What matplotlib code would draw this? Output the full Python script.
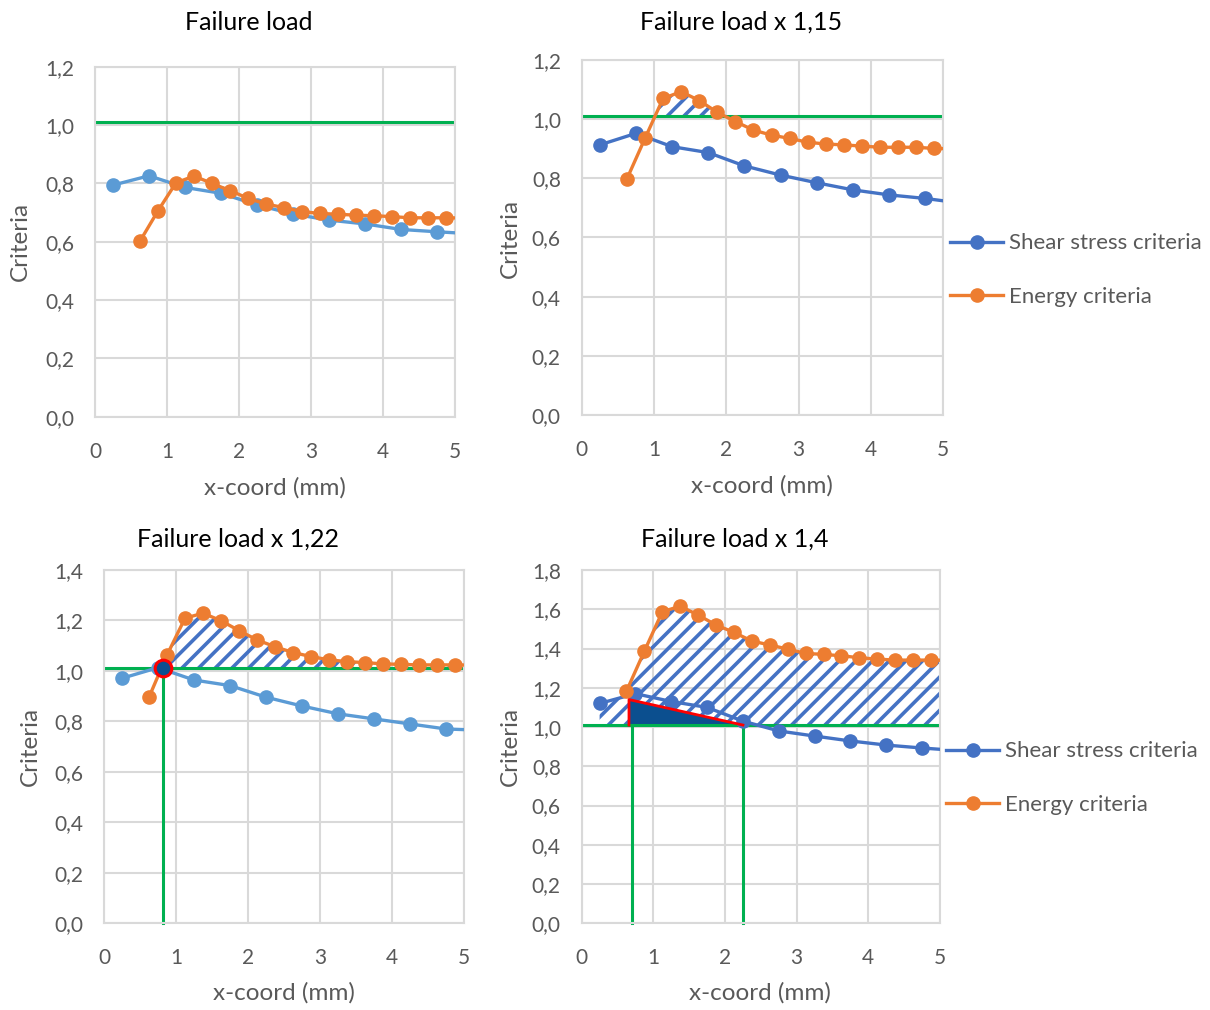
import numpy as np
import matplotlib
matplotlib.use("Agg")
import matplotlib.pyplot as plt
from matplotlib.ticker import FuncFormatter, MultipleLocator
from matplotlib.lines import Line2D

plt.rcParams['font.family'] = ['Lato', 'DejaVu Sans']
plt.rcParams['hatch.linewidth'] = 2.6

# ---------------- data ----------------
x_shear = [0.25, 0.75, 1.25, 1.75, 2.25, 2.75, 3.25, 3.75, 4.25, 4.75, 5.25]
x_energy = [0.625, 0.875, 1.125, 1.375, 1.625, 1.875, 2.125, 2.375, 2.625, 2.875,
            3.125, 3.375, 3.625, 3.875, 4.125, 4.375, 4.625, 4.875, 5.125]

shear_1 = [0.794, 0.826, 0.786, 0.766, 0.726, 0.695, 0.674, 0.661, 0.642, 0.634, 0.627]
energy_1 = [0.602, 0.706, 0.802, 0.825, 0.800, 0.775, 0.749, 0.729, 0.717, 0.703,
            0.697, 0.694, 0.691, 0.689, 0.686, 0.682, 0.682, 0.682, 0.681]

shear_2 = [0.913, 0.952, 0.907, 0.887, 0.842, 0.811, 0.785, 0.761, 0.744, 0.732, 0.716]
energy_2 = [0.798, 0.935, 1.070, 1.093, 1.063, 1.023, 0.992, 0.963, 0.946, 0.935,
            0.922, 0.916, 0.913, 0.909, 0.905, 0.905, 0.905, 0.901, 0.900]

shear_3 = [0.971, 1.013, 0.964, 0.942, 0.896, 0.861, 0.830, 0.810, 0.790, 0.770, 0.765]
energy_3 = [0.896, 1.063, 1.209, 1.229, 1.199, 1.160, 1.123, 1.096, 1.073, 1.057,
            1.044, 1.037, 1.033, 1.028, 1.026, 1.024, 1.024, 1.024, 1.023]

shear_4 = [1.12, 1.17, 1.13, 1.10, 1.03, 0.98, 0.954, 0.929, 0.908, 0.893, 0.88]
energy_4 = [1.183, 1.387, 1.587, 1.616, 1.570, 1.520, 1.482, 1.438, 1.418, 1.397,
            1.375, 1.370, 1.363, 1.353, 1.346, 1.341, 1.341, 1.341, 1.340]

threshold = 1.01
titles = ["Failure load", "Failure load x 1,15", "Failure load x 1,22", "Failure load x 1,4"]
y_max = [1.2, 1.2, 1.4, 1.8]
series_labels = ["Shear stress criteria", "Energy criteria"]

intersect_3 = (0.82, 1.01)
vlines_3 = [0.82]
vlines_4 = [0.70, 2.25]
tri_x = [0.66, 0.66, 2.25]
tri_y = [1.01, 1.14, 1.01]

# ---------------- style ----------------
W, H = 1210, 1010
ORANGE = '#ED7D31'
BLUE_L = '#5B9BD5'
BLUE_D = '#4472C4'
GREEN = '#00B050'
GRID = '#D9D9D9'
TXT = '#595959'
HATCH = '#4472C4'
DARK = '#0B4F8F'

fig = plt.figure(figsize=(W / 100, H / 100), dpi=100)


def rect(l, r, t, b):
    return [l / W, 1 - b / H, (r - l) / W, (b - t) / H]


rects = [rect(95, 455, 66.7, 416.7), rect(581.7, 943.3, 60, 415),
         rect(104, 464, 570, 923.3), rect(581.7, 940, 570, 923.3)]

comma = FuncFormatter(lambda v, p: f"{v:.1f}".replace('.', ','))

axes = []
for i, r in enumerate(rects):
    ax = fig.add_axes(r)
    ax.set_xlim(0, 5)
    ax.set_ylim(0, y_max[i])
    ax.xaxis.set_major_locator(MultipleLocator(1))
    ax.yaxis.set_major_locator(MultipleLocator(0.2))
    ax.yaxis.set_major_formatter(comma)
    ax.grid(True, color=GRID, lw=1.5, zorder=0)
    ax.set_axisbelow(True)
    for s in ax.spines.values():
        s.set_color(GRID)
        s.set_linewidth(1.5)
    ax.tick_params(length=0, colors=TXT, labelsize=15)
    ax.tick_params(axis='y', pad=15)
    ax.tick_params(axis='x', pad=18)
    axes.append(ax)

shear = [shear_1, shear_2, shear_3, shear_4]
energy = [energy_1, energy_2, energy_3, energy_4]
blues = [BLUE_L, BLUE_D, BLUE_L, BLUE_D]

# hatched zones
HP = '//'
axes[1].fill_between(x_energy, threshold, energy_2, where=np.array(energy_2) > threshold,
                     interpolate=True, facecolor='none', edgecolor=HATCH, hatch=HP,
                     linewidth=0, zorder=1)
axes[2].fill_between(x_energy, threshold, energy_3, where=np.array(energy_3) > threshold,
                     interpolate=True, facecolor='none', edgecolor=HATCH, hatch=HP,
                     linewidth=0, zorder=1)
xs = np.linspace(x_shear[0], 5.0, 800)
env = np.maximum(np.interp(xs, x_shear, shear_4),
                 np.interp(xs, x_energy, energy_4, left=0.0))
axes[3].fill_between(xs, threshold, env, where=env > threshold, interpolate=True,
                     facecolor='none', edgecolor=HATCH, hatch=HP, linewidth=0, zorder=1)
axes[3].fill(tri_x, tri_y, color=DARK, zorder=2, lw=0)

for i, ax in enumerate(axes):
    ax.axhline(threshold, color=GREEN, lw=2.2, zorder=2.5)
    ax.plot(x_shear, shear[i], '-o', color=blues[i], lw=2.4, ms=9.5, zorder=3)
    ax.plot(x_energy, energy[i], '-o', color=ORANGE, lw=2.4, ms=9.5, zorder=3)

for xv in vlines_3:
    axes[2].plot([xv, xv], [0, threshold], color=GREEN, lw=2.2, zorder=2.5, clip_on=False)
for xv in vlines_4:
    axes[3].plot([xv, xv], [0, threshold], color=GREEN, lw=2.2, zorder=2.5, clip_on=False)
axes[3].plot(tri_x[:3], tri_y[:3], color='#FF0000', lw=2.0, zorder=4)
axes[2].plot([intersect_3[0]], [intersect_3[1]], 'o', ms=12, mfc=DARK, mec='#FF0000',
             mew=2.2, zorder=5)

# titles and labels
title_pos = [(249, 22), (741, 22), (238, 539), (735, 539)]
xlab_pos = [(275, 488), (762, 486), (284, 993), (760, 993)]
ylab_pos = [(20, 241), (510, 238), (30, 746), (510, 746)]
for i in range(4):
    fig.text(title_pos[i][0] / W, 1 - title_pos[i][1] / H, titles[i], ha='center',
             va='center', fontsize=18, color='black')
    fig.text(xlab_pos[i][0] / W, 1 - xlab_pos[i][1] / H, "x-coord (mm)", ha='center',
             va='center', fontsize=17.5, color=TXT)
    fig.text(ylab_pos[i][0] / W, 1 - ylab_pos[i][1] / H, "Criteria", ha='center',
             va='center', fontsize=17.5, color=TXT, rotation=90)

# legends
for ax_i, blue, (lx, ly) in [(1, BLUE_D, (950, 270)), (3, BLUE_D, (946, 778))]:
    handles = [Line2D([], [], color=blue, marker='o', lw=2.4, ms=9.5),
               Line2D([], [], color=ORANGE, marker='o', lw=2.4, ms=9.5)]
    leg = fig.legend(handles, series_labels, loc='center left',
                     bbox_to_anchor=(lx / W, 1 - ly / H), frameon=False,
                     fontsize=16, handlelength=2.4, handletextpad=0.27,
                     labelspacing=1.5, borderpad=0, borderaxespad=0)
    for t in leg.get_texts():
        t.set_color(TXT)

fig.savefig('out.png', dpi=100)
